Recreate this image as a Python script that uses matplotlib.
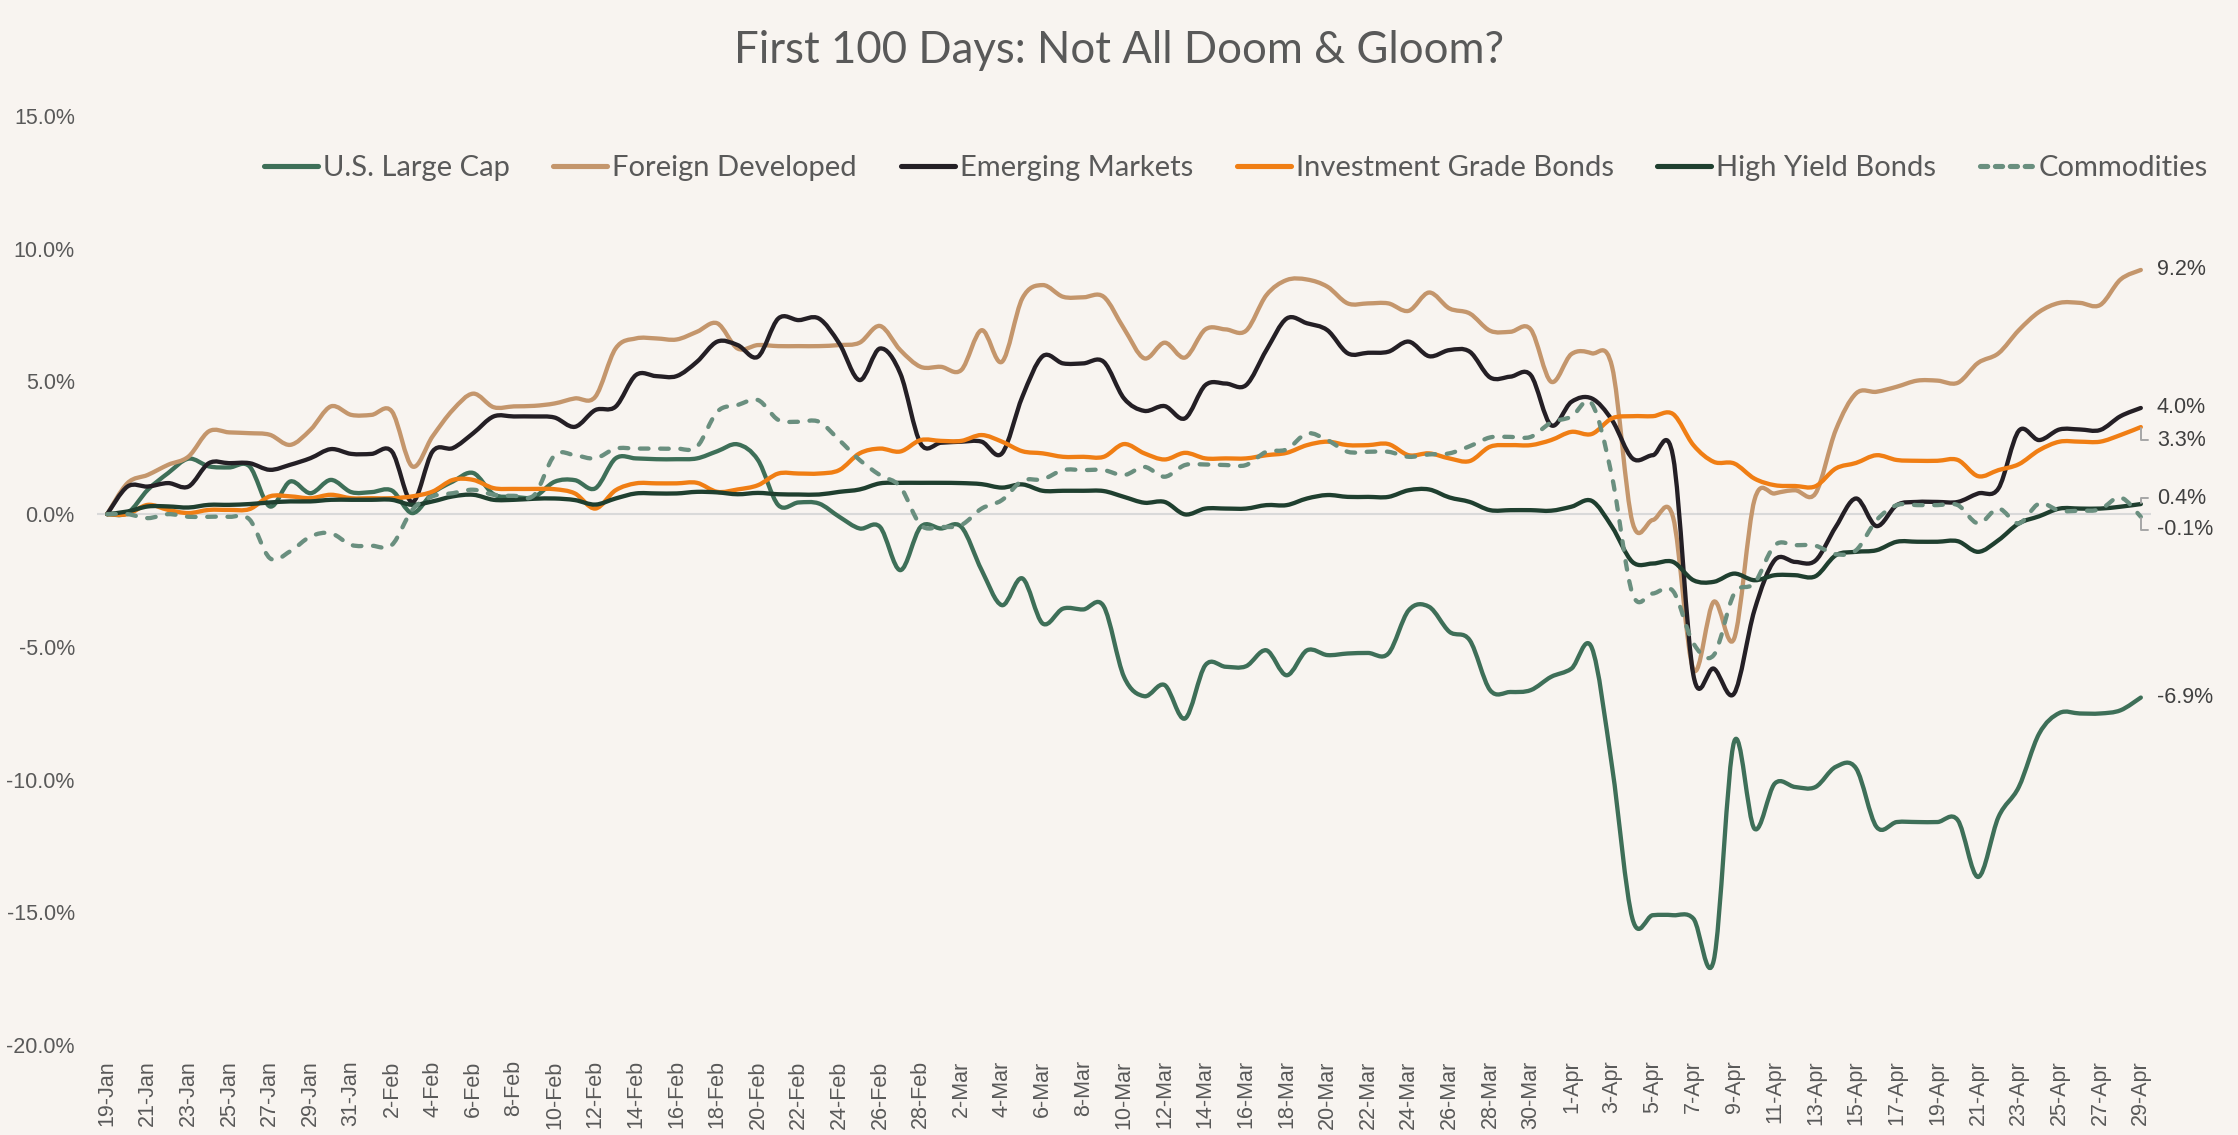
import numpy as np
import pandas as pd
import matplotlib
matplotlib.use("Agg")
import matplotlib.pyplot as plt
from matplotlib.path import Path
from matplotlib.patches import PathPatch
from matplotlib.lines import Line2D
from matplotlib.ticker import FuncFormatter

# ---------------- data ----------------
dates = pd.date_range("2025-01-19", "2025-04-29", freq="D")
date_labels = [f"{d.day}-{d.strftime('%b')}" for d in dates]

us_large_cap = [
    0.00, 0.04, 0.92, 1.55, 2.09, 1.80, 1.76, 1.80, 0.29, 1.23, 0.79, 1.29, 0.83, 0.83, 0.89, 0.04,
    0.79, 1.23, 1.55, 0.75, 0.65, 0.65, 1.22, 1.28, 0.97, 2.10, 2.10, 2.07, 2.07, 2.10, 2.37, 2.63,
    2.04, 0.34, 0.44, 0.40, -0.10, -0.54, -0.48, -2.11, -0.48, -0.54, -0.48, -2.11, -3.43, -2.42,
    -4.12, -3.56, -3.59, -3.47, -6.13, -6.86, -6.44, -7.70, -5.69, -5.75, -5.73, -5.13, -6.07, -5.13,
    -5.31, -5.25, -5.23, -5.25, -3.62, -3.49, -4.43, -4.75, -6.63, -6.70, -6.63, -6.13, -5.82, -5.03,
    -9.52, -15.24, -15.11, -15.11, -15.24, -16.81, -8.58, -11.85, -10.15, -10.28, -10.28, -9.52, -9.58,
    -11.78, -11.60, -11.60, -11.60, -11.53, -13.67, -11.41, -10.28, -8.27, -7.49, -7.51, -7.51, -7.39,
    -6.91]
foreign_developed = [
    0.00, 1.17, 1.48, 1.86, 2.17, 3.12, 3.08, 3.05, 2.99, 2.61, 3.18, 4.06, 3.74, 3.74, 3.87, 1.80,
    2.93, 3.93, 4.54, 4.03, 4.06, 4.08, 4.17, 4.36, 4.42, 6.24, 6.62, 6.62, 6.58, 6.87, 7.19, 6.24,
    6.37, 6.33, 6.33, 6.33, 6.37, 6.46, 7.09, 6.18, 5.55, 5.55, 5.43, 6.93, 5.74, 8.13, 8.63, 8.19,
    8.17, 8.19, 6.99, 5.87, 6.46, 5.90, 6.96, 6.96, 6.91, 8.25, 8.82, 8.84, 8.57, 7.94, 7.94, 7.94,
    7.66, 8.35, 7.75, 7.56, 6.91, 6.87, 6.96, 4.99, 6.03, 6.06, 5.55, -0.30, -0.22, -0.12, -5.85,
    -3.30, -4.69, 0.53, 0.78, 0.90, 0.78, 3.17, 4.55, 4.61, 4.80, 5.03, 5.03, 4.95, 5.70, 6.06, 6.93,
    7.62, 7.96, 7.96, 7.88, 8.84, 9.20]
emerging_markets = [
    0.00, 1.04, 1.04, 1.17, 1.04, 1.92, 1.92, 1.92, 1.67, 1.86, 2.11, 2.45, 2.27, 2.27, 2.36, 0.45,
    2.36, 2.49, 3.05, 3.68, 3.68, 3.68, 3.64, 3.29, 3.92, 4.05, 5.24, 5.20, 5.20, 5.74, 6.50, 6.37,
    5.93, 7.37, 7.31, 7.37, 6.43, 5.05, 6.24, 5.30, 2.66, 2.69, 2.73, 2.73, 2.29, 4.42, 5.95, 5.68,
    5.68, 5.74, 4.36, 3.89, 4.07, 3.61, 4.86, 4.92, 4.86, 6.18, 7.37, 7.19, 6.93, 6.06, 6.08, 6.12,
    6.50, 5.95, 6.18, 6.12, 5.15, 5.18, 5.24, 3.35, 4.23, 4.36, 3.54, 2.10, 2.22, 2.16, -6.07, -5.82,
    -6.76, -3.62, -1.73, -1.80, -1.75, -0.48, 0.59, -0.45, 0.34, 0.46, 0.46, 0.46, 0.78, 0.97, 3.14,
    2.79, 3.19, 3.19, 3.17, 3.69, 4.00]
investment_grade = [
    0.00, 0.00, 0.35, 0.16, 0.04, 0.16, 0.16, 0.19, 0.67, 0.67, 0.60, 0.73, 0.60, 0.60, 0.60, 0.67,
    0.85, 1.29, 1.29, 0.98, 0.95, 0.95, 0.94, 0.78, 0.21, 0.90, 1.16, 1.16, 1.16, 1.18, 0.84, 0.93,
    1.09, 1.53, 1.53, 1.53, 1.66, 2.29, 2.47, 2.36, 2.79, 2.76, 2.76, 2.98, 2.73, 2.37, 2.29, 2.16,
    2.16, 2.16, 2.64, 2.29, 2.06, 2.31, 2.10, 2.10, 2.10, 2.22, 2.31, 2.60, 2.73, 2.60, 2.60, 2.64,
    2.22, 2.29, 2.10, 2.00, 2.54, 2.60, 2.60, 2.79, 3.10, 3.02, 3.61, 3.69, 3.69, 3.77, 2.60, 1.97,
    1.91, 1.34, 1.09, 1.06, 1.05, 1.72, 1.93, 2.22, 2.04, 2.01, 2.01, 2.04, 1.43, 1.66, 1.88, 2.41,
    2.73, 2.73, 2.73, 2.98, 3.28]
high_yield = [
    0.00, 0.10, 0.29, 0.29, 0.25, 0.35, 0.35, 0.38, 0.44, 0.48, 0.48, 0.54, 0.54, 0.54, 0.54, 0.35,
    0.48, 0.67, 0.73, 0.54, 0.54, 0.58, 0.59, 0.53, 0.36, 0.59, 0.78, 0.78, 0.78, 0.84, 0.82, 0.75,
    0.80, 0.75, 0.74, 0.74, 0.84, 0.93, 1.16, 1.18, 1.18, 1.18, 1.17, 1.13, 1.00, 1.12, 0.88, 0.88,
    0.88, 0.87, 0.65, 0.43, 0.46, -0.01, 0.21, 0.21, 0.21, 0.34, 0.34, 0.59, 0.72, 0.65, 0.65, 0.65,
    0.90, 0.93, 0.63, 0.46, 0.15, 0.15, 0.15, 0.13, 0.28, 0.50, -0.48, -1.80, -1.86, -1.80, -2.49,
    -2.55, -2.24, -2.49, -2.30, -2.30, -2.34, -1.55, -1.42, -1.36, -1.04, -1.04, -1.04, -1.02, -1.42,
    -0.98, -0.35, -0.08, 0.21, 0.21, 0.21, 0.28, 0.38]
commodities = [
    0.00, 0.00, -0.15, 0.00, -0.10, -0.10, -0.10, -0.20, -1.66, -1.40, -0.84, -0.72, -1.16, -1.19,
    -1.16, 0.16, 0.67, 0.79, 0.92, 0.73, 0.69, 0.72, 2.22, 2.22, 2.10, 2.47, 2.47, 2.47, 2.47, 2.54,
    3.86, 4.11, 4.30, 3.55, 3.48, 3.48, 2.79, 2.04, 1.47, 1.03, -0.41, -0.48, -0.41, 0.21, 0.53, 1.26,
    1.31, 1.66, 1.66, 1.66, 1.47, 1.78, 1.41, 1.85, 1.87, 1.85, 1.85, 2.35, 2.44, 3.04, 2.79, 2.35,
    2.35, 2.35, 2.16, 2.25, 2.29, 2.56, 2.89, 2.91, 2.91, 3.45, 3.67, 4.17, 1.40, -2.99, -2.99, -2.90,
    -4.87, -5.31, -3.00, -2.60, -1.17, -1.17, -1.19, -1.51, -1.36, -0.23, 0.34, 0.34, 0.34, 0.34,
    -0.35, 0.21, -0.35, 0.40, 0.13, 0.13, 0.18, 0.63, -0.10]

series_names = ["U.S. Large Cap", "Foreign Developed", "Emerging Markets",
                "Investment Grade Bonds", "High Yield Bonds", "Commodities"]
series_values = [us_large_cap, foreign_developed, emerging_markets,
                 investment_grade, high_yield, commodities]

# ---------------- style ----------------
BG = "#f8f4f0"
colors = ["#3e6f58", "#c4966c", "#241f25", "#f07e14", "#1f3f2f", "#6a8f7f"]
dashed = [False, False, False, False, False, True]
TXT = "#595959"
LW = 3.1
label_offsets_px = [0, 0, 0, -13, 6, -13]   # vertical nudge of end labels (px, up positive)

fig = plt.figure(figsize=(22.38, 11.35), dpi=100, facecolor=BG)
ax = fig.add_axes([97 / 2238, 1 - 1045 / 1135, (2151 - 97) / 2238, (1045 - 116) / 1135])
ax.set_facecolor(BG)

x = np.arange(len(dates))


def smooth_path(xs, ys):
    pts = np.column_stack([xs, ys]).astype(float)
    n = len(pts)
    verts = [pts[0]]
    codes = [Path.MOVETO]
    for i in range(n - 1):
        p0 = pts[max(i - 1, 0)]
        p1 = pts[i]
        p2 = pts[i + 1]
        p3 = pts[min(i + 2, n - 1)]
        c1 = p1 + (p2 - p0) / 6.0
        c2 = p2 - (p3 - p1) / 6.0
        verts += [c1, c2, p2]
        codes += [Path.CURVE4] * 3
    return Path(verts, codes)


ax.axhline(0, color="#d9d9d9", lw=1.5, zorder=1)

handles = []
for name, vals, col, dsh in zip(series_names, series_values, colors, dashed):
    path = smooth_path(x, vals)
    ls = (0, (2.0, 2.7)) if dsh else "solid"
    patch = PathPatch(path, fill=False, edgecolor=col, lw=LW, linestyle=ls,
                      capstyle="round", joinstyle="round", zorder=3)
    ax.add_patch(patch)
    h = Line2D([], [], color=col, lw=LW + 0.6, linestyle=(0, (1.4, 1.5)) if dsh else "solid",
               solid_capstyle="round", dash_capstyle="round")
    handles.append(h)

# end labels
for vals, off in zip(series_values, label_offsets_px):
    last = vals[-1]
    txt = f"{last:.1f}%"
    if off == 0:
        ax.annotate(txt, xy=(x[-1], last), xytext=(11.5, 0), textcoords="offset points",
                    ha="left", va="center", fontsize=15.5, color="#404040",
                    family="Liberation Sans", annotation_clip=False)
    else:
        ax.annotate(txt, xy=(x[-1], last), xytext=(11.5, off * 0.72), textcoords="offset points",
                    ha="left", va="center", fontsize=15.5, color="#404040",
                    family="Liberation Sans", annotation_clip=False,
                    arrowprops=dict(arrowstyle="-", color="#a6a6a6", lw=1.4,
                                    connectionstyle="angle,angleA=0,angleB=90,rad=0",
                                    shrinkA=4, shrinkB=1, relpos=(0, 0.5)))

ax.set_xlim(-0.5, len(dates) - 0.5)
ax.set_ylim(-20, 15)
ax.set_yticks(np.arange(-20, 15.1, 5))
ax.yaxis.set_major_formatter(FuncFormatter(lambda v, p: f"{v:.1f}%"))
ax.set_xticks(x[::2])
ax.set_xticklabels(date_labels[::2], rotation=90, ha="center", va="top")
ax.tick_params(axis="both", length=0, colors=TXT)
ax.tick_params(axis="y", pad=16, labelsize=15.5)
ax.tick_params(axis="x", pad=11, labelsize=15.5)
for lab in ax.get_xticklabels() + ax.get_yticklabels():
    lab.set_family("Liberation Sans")
for s in ax.spines.values():
    s.set_visible(False)

fig.text(0.5, 1 - 63 / 1135, "First 100 Days: Not All Doom & Gloom?", ha="center",
         va="baseline", fontsize=31.5, color=TXT, family="Lato")

leg = fig.legend(handles, series_names, loc="center", bbox_to_anchor=(1236 / 2238, 1 - 168 / 1135),
                 ncol=6, frameon=False, handlelength=1.85, handletextpad=0.17, columnspacing=1.5,
                 prop={"family": "Lato", "size": 21})
for t in leg.get_texts():
    t.set_color(TXT)

fig.savefig("out.png", dpi=100, facecolor=BG)
